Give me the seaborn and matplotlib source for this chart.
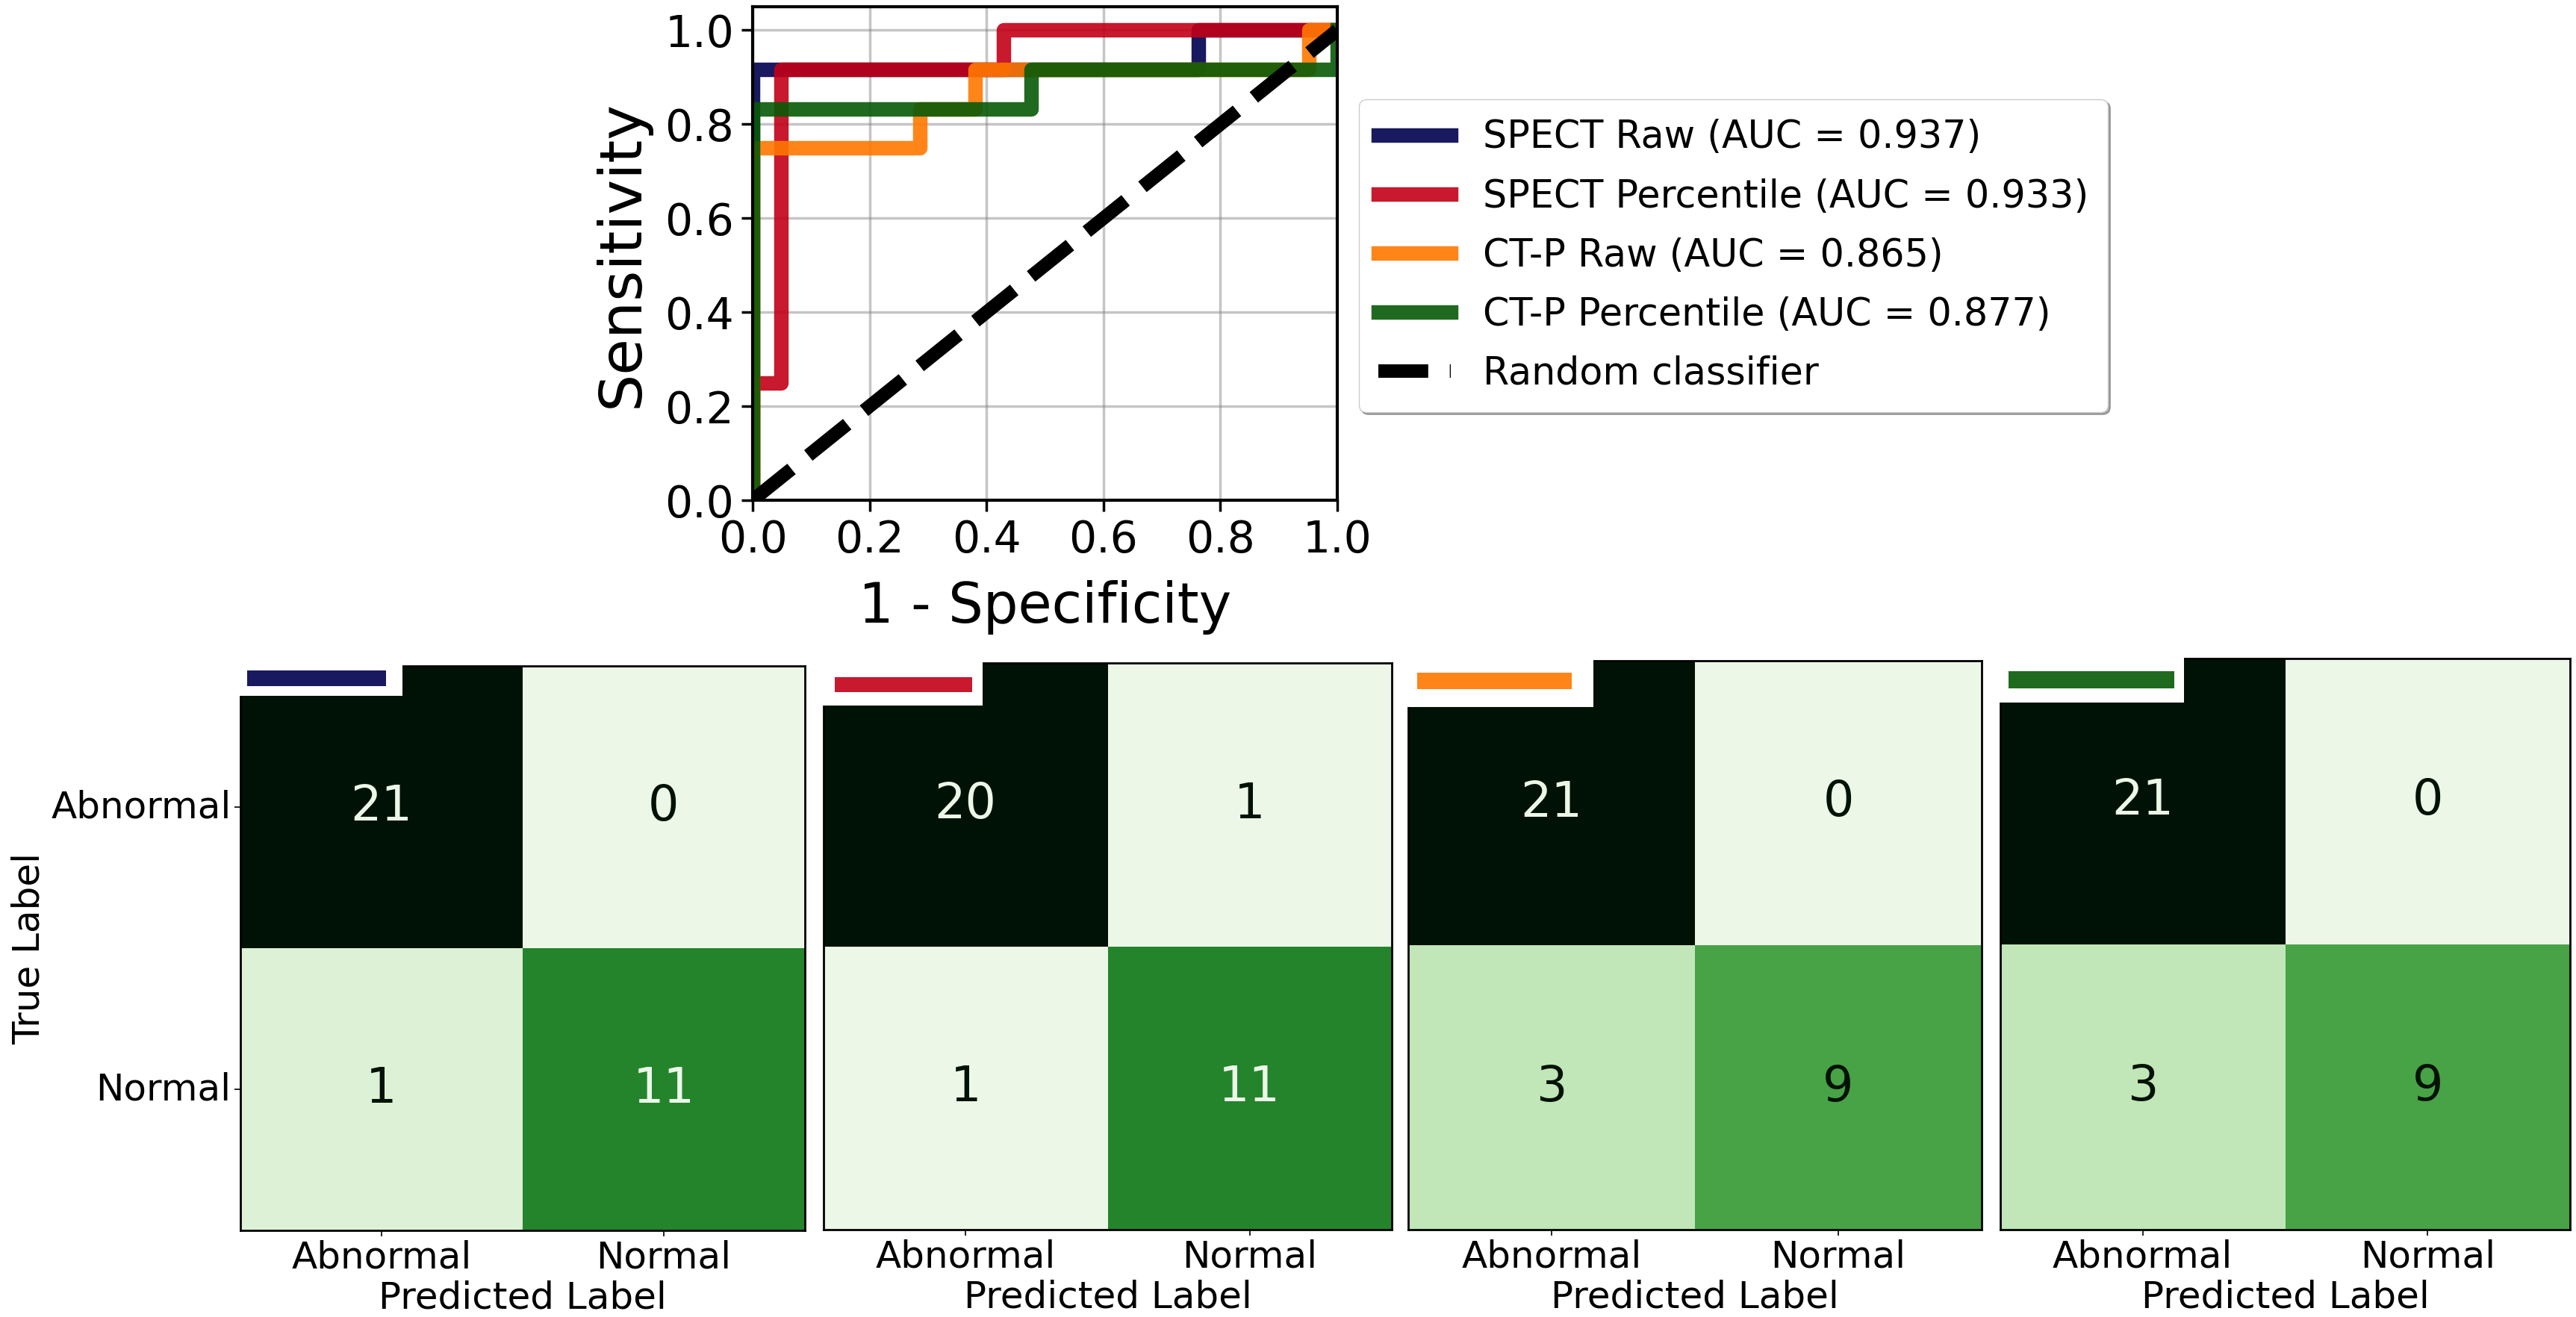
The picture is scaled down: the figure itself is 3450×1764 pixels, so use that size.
import numpy as np
import pandas as pd
import matplotlib
matplotlib.use("Agg")
import matplotlib.pyplot as plt
import seaborn as sns
from matplotlib.colors import LinearSegmentedColormap
from matplotlib.patches import Rectangle

# ---- data ----
model_names = ["SPECT Raw", "SPECT Percentile", "CT-P Raw", "CT-P Percentile"]
auc_values = [0.937, 0.933, 0.865, 0.877]
line_colors = ["#00004e", "#c20017", "#ff7800", "#085a08"]

# ROC steps (fpr, tpr); 21 negatives / 12 positives
fpr_spect_raw = [0.0, 0.0, 0.762, 0.762, 1.0]
tpr_spect_raw = [0.0, 0.917, 0.917, 1.0, 1.0]
fpr_spect_pct = [0.0, 0.0, 0.048, 0.048, 0.429, 0.429, 1.0]
tpr_spect_pct = [0.0, 0.25, 0.25, 0.917, 0.917, 1.0, 1.0]
fpr_ctp_raw = [0.0, 0.0, 0.286, 0.286, 0.381, 0.381, 0.952, 0.952, 1.0]
tpr_ctp_raw = [0.0, 0.75, 0.75, 0.833, 0.833, 0.917, 0.917, 1.0, 1.0]
fpr_ctp_pct = [0.0, 0.0, 0.476, 0.476, 1.0, 1.0]
tpr_ctp_pct = [0.0, 0.833, 0.833, 0.917, 0.917, 1.0]

roc_fpr = [fpr_spect_raw, fpr_spect_pct, fpr_ctp_raw, fpr_ctp_pct]
roc_tpr = [tpr_spect_raw, tpr_spect_pct, tpr_ctp_raw, tpr_ctp_pct]

class_labels = ["Abnormal", "Normal"]
cm_spect_raw = [[21, 0], [1, 11]]
cm_spect_pct = [[20, 1], [1, 11]]
cm_ctp_raw = [[21, 0], [3, 9]]
cm_ctp_pct = [[21, 0], [3, 9]]
conf_mats = [cm_spect_raw, cm_spect_pct, cm_ctp_raw, cm_ctp_pct]

# greens as they appear in the picture
greens = LinearSegmentedColormap.from_list(
    "greens_fig",
    [(0.0, "#ecf7e8"), (1 / 21, "#ddf1d6"), (3 / 21, "#c0e6b6"),
     (9 / 21, "#48a246"), (11 / 21, "#24842c"), (1.0, "#001205")])

W, H = 3450, 1764
fig = plt.figure(figsize=(W / 100, H / 100), dpi=100)
plt.rcParams["font.family"] = ["DejaVu Sans"]


def box(left, top, right, bottom):
    return [left / W, 1 - bottom / H, (right - left) / W, (bottom - top) / H]


def fig_rect(left, top, right, bottom, **kw):
    x0, y0, w, h = box(left, top, right, bottom)
    fig.add_artist(Rectangle((x0, y0), w, h, transform=fig.transFigure, **kw))


# ---- ROC panel ----
ax = fig.add_axes(box(1008, 9, 1791, 670))
for name, auc, col, fx, ty in zip(model_names, auc_values, line_colors, roc_fpr, roc_tpr):
    df = pd.DataFrame({"fpr": fx, "tpr": ty})
    sns.lineplot(data=df, x="fpr", y="tpr", sort=False, estimator=None,
                 color=col, linewidth=14, alpha=0.9, ax=ax,
                 label=f"{name} (AUC = {auc:.3f})")
sns.lineplot(x=[0, 1], y=[0, 1], color="black", ls="--", linewidth=13, ax=ax,
             label="Random classifier")

ax.set_xlim(0, 1.0)
ax.set_ylim(0, 1.05)
ax.set_xticks(np.arange(0, 1.01, 0.2))
ax.set_yticks(np.arange(0, 1.01, 0.2))
ax.grid(True, color="gray", alpha=0.45, lw=2.5)
ax.tick_params(labelsize=42, length=11, width=2.5, pad=7)
for sp in ax.spines.values():
    sp.set_linewidth(3)
ax.set_xlabel("1 - Specificity", fontsize=53, labelpad=18)
ax.set_ylabel("Sensitivity", fontsize=57, labelpad=14)
ax.legend(loc="upper left", bbox_to_anchor=(1820 / W, 1 - 133 / H),
          bbox_transform=fig.transFigure, borderaxespad=0, fontsize=36.5,
          handlelength=1.9, handletextpad=0.85, borderpad=0.52,
          labelspacing=0.575, shadow=True, framealpha=1)

# ---- confusion matrices ----
cm_boxes = [(322, 892, 1078, 1648), (1103, 888, 1864, 1647),
            (1886, 885, 2654, 1647), (2679, 882, 3442, 1647)]
# colour keys in the top-left corners: white box (l, r, bottom), bar (l, r, top, bottom)
key_boxes = [(321, 539, 932), (1103, 1316, 945), (1885, 2134, 947), (2679, 2925, 941)]
key_bars = [(331, 517, 898, 919), (1118, 1302, 907, 927),
            (1898, 2105, 901, 923), (2690, 2912, 899, 922)]

for k, (cm, col, b) in enumerate(zip(conf_mats, line_colors, cm_boxes)):
    cax = fig.add_axes(box(*b))
    arr = np.array(cm)
    vmin, vmax = arr.min(), arr.max()
    sns.heatmap(arr, cmap=greens, vmin=vmin, vmax=vmax, cbar=False,
                xticklabels=class_labels, yticklabels=class_labels, ax=cax)
    thresh = (vmax + vmin) / 2
    for i in range(2):
        for j in range(2):
            tc = greens(0.0) if arr[i, j] > thresh else greens(1.0)
            cax.text(j + 0.5, i + 0.5, str(arr[i, j]), ha="center", va="center",
                     fontsize=47, color=tc)
    for sp in cax.spines.values():
        sp.set_visible(True)
        sp.set_linewidth(2)
        sp.set_color("black")
    cax.tick_params(labelsize=36, length=5.5, width=1.2)
    cax.set_xlabel("Predicted Label", fontsize=36)
    if k == 0:
        cax.set_ylabel("True Label", fontsize=36)
        plt.setp(cax.get_yticklabels(), rotation=0)
    else:
        cax.set_yticks([])
    plt.setp(cax.get_xticklabels(), rotation=0)

    bl, br, bb = key_boxes[k]
    fig_rect(bl - 1, b[1] - 12, br, bb, facecolor="white", edgecolor="none", zorder=10)
    ql, qr, qt, qb = key_bars[k]
    fig_rect(ql, qt, qr, qb, facecolor=col, edgecolor="none", alpha=0.9, zorder=11)

fig.savefig("out.png", dpi=100, facecolor="white")
